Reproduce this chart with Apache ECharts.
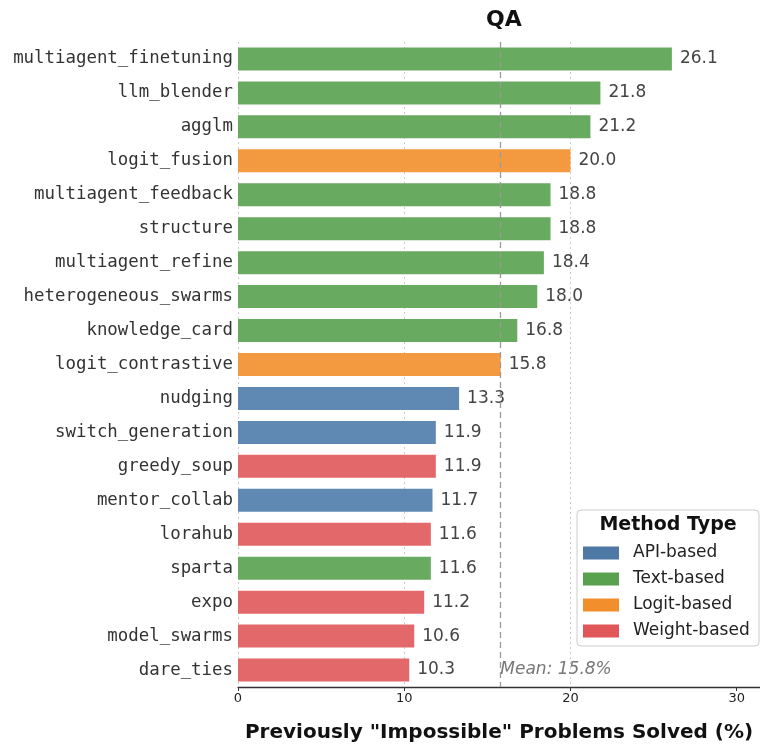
<!DOCTYPE html>
<html>
<head>
<meta charset="utf-8">
<script src="https://cdn.jsdelivr.net/npm/echarts@6/dist/echarts.min.js"></script>
<style>
  html, body { margin: 0; padding: 0; background: #fff; }
</style>
</head>
<body>
<div id="main" style="width:760px;height:748px;"></div>
<script>
  // data, top to bottom
  var methods = ['multiagent_finetuning', 'llm_blender', 'agglm', 'logit_fusion', 'multiagent_feedback',
    'structure', 'multiagent_refine', 'heterogeneous_swarms', 'knowledge_card', 'logit_contrastive',
    'nudging', 'switch_generation', 'greedy_soup', 'mentor_collab', 'lorahub', 'sparta', 'expo',
    'model_swarms', 'dare_ties'];
  var solved = [26.1, 21.8, 21.2, 20.0, 18.8, 18.8, 18.4, 18.0, 16.8, 15.8,
    13.3, 11.9, 11.9, 11.7, 11.6, 11.6, 11.2, 10.6, 10.3];
  var methodType = ['Text', 'Text', 'Text', 'Logit', 'Text', 'Text', 'Text', 'Text', 'Text', 'Logit',
    'API', 'API', 'Weight', 'API', 'Weight', 'Text', 'Weight', 'Weight', 'Weight'];
  var types = ['API', 'Text', 'Logit', 'Weight'];
  var legendNames = ['API-based', 'Text-based', 'Logit-based', 'Weight-based'];
  var typeColors = ['#4e79a7', '#59a14f', '#f28e2b', '#e15759'];
  var barColors = ['#5f88b3', '#68aa5f', '#f39a40', '#e3686a'];
  var xTicks = [0, 10, 20, 30];

  var mean = solved.reduce(function (a, b) { return a + b; }, 0) / solved.length;

  var chart = echarts.init(document.getElementById('main'));

  var series = types.map(function (t, i) {
    var s = {
      name: legendNames[i],
      type: 'bar',
      stack: 'all',
      barWidth: 23,
      itemStyle: { color: barColors[i] },
      label: {
        show: true,
        position: 'right',
        distance: 8,
        fontFamily: 'DejaVu Sans',
        fontSize: 17,
        color: '#444',
        formatter: function (p) { return p.value.toFixed(1); }
      },
      data: solved.map(function (v, j) { return methodType[j] === t ? v : '-'; })
    };
    if (i === 0) {
      s.markLine = {
        silent: true,
        symbol: 'none',
        label: { show: false },
        lineStyle: { type: [6, 4], color: '#999', width: 1.3 },
        data: [{ xAxis: mean }]
      };
    }
    return s;
  });

  var option = {
    animation: false,
    backgroundColor: '#fff',
    title: {
      text: 'QA',
      left: 481,
      top: 4,
      textStyle: { fontFamily: 'DejaVu Sans', fontWeight: 'bold', fontSize: 22, color: '#111' }
    },
    grid: { left: 238, right: 0, top: 42, bottom: 60 },
    xAxis: {
      type: 'value',
      min: 0,
      max: 31.4,
      interval: 10,
      name: 'Previously "Impossible" Problems Solved (%)',
      nameLocation: 'middle',
      nameGap: 36,
      nameTextStyle: { fontFamily: 'DejaVu Sans', fontWeight: 'bold', fontSize: 20, color: '#111' },
      axisLine: { show: true, lineStyle: { color: '#333', width: 1.3 } },
      axisTick: { show: true, length: 4, lineStyle: { color: '#333' }, customValues: xTicks },
      axisLabel: {
        fontFamily: 'DejaVu Sans', fontSize: 13, color: '#222', margin: 5,
        customValues: xTicks
      },
      splitLine: { show: true, showMaxLine: false, lineStyle: { type: [2, 3], color: '#ccc', width: 1 } }
    },
    yAxis: {
      type: 'category',
      data: methods,
      inverse: true,
      axisLine: { show: false },
      axisTick: { show: false },
      axisLabel: { fontFamily: 'DejaVu Sans Mono', fontSize: 17.4, color: '#333', margin: 5 }
    },
    legend: {
      orient: 'vertical',
      left: 578,
      top: 539,
      icon: 'rect',
      itemWidth: 36,
      itemHeight: 13,
      itemGap: 8,
      z: 6,
      selectedMode: false,
      textStyle: { fontFamily: 'DejaVu Sans', fontSize: 17, color: '#222', lineHeight: 18, padding: [0, 0, 0, 9] },
      data: legendNames.map(function (n, i) {
        return { name: n, itemStyle: { color: typeColors[i] } };
      })
    },
    series: series
  };

  chart.setOption(option);

  // legend frame, legend title and the mean label, placed through the chart's own scales
  var mx = chart.convertToPixel({ xAxisIndex: 0 }, mean);
  var my = chart.convertToPixel({ yAxisIndex: 0 }, methods[methods.length - 1]);
  chart.setOption({
    graphic: [
      {
        type: 'rect', z: 5,
        shape: { x: 577, y: 510, width: 182, height: 136, r: 4 },
        style: { fill: '#fff', stroke: '#ccc', lineWidth: 1 }
      },
      {
        type: 'text', z: 7, x: 668, y: 525,
        style: {
          text: 'Method Type', fontFamily: 'DejaVu Sans', fontWeight: 'bold', fontSize: 19,
          fill: '#111', align: 'center', verticalAlign: 'middle'
        }
      },
      {
        type: 'text', z: 7, x: mx, y: my,
        style: {
          text: 'Mean: ' + mean.toFixed(1) + '%', fontFamily: 'DejaVu Sans', fontStyle: 'italic',
          fontSize: 17, fill: '#777', align: 'left', verticalAlign: 'middle'
        }
      }
    ]
  });
</script>
</body>
</html>
